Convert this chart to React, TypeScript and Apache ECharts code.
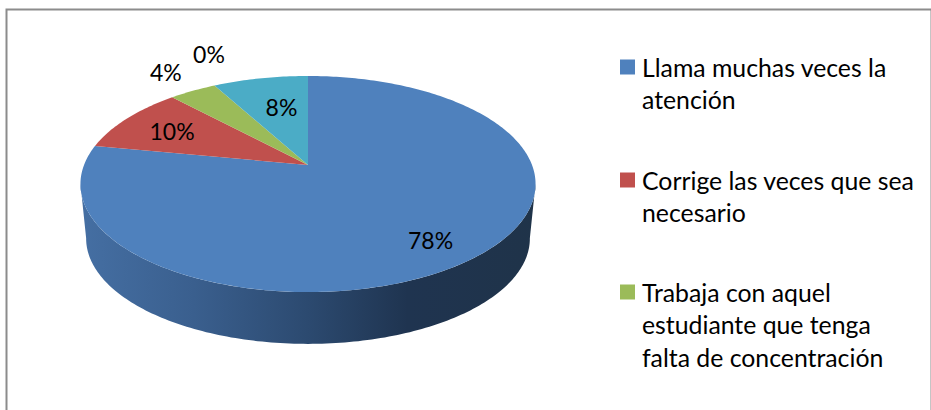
import React, { useEffect, useRef } from "react";
import * as echarts from "echarts";

const sliceNames = [
  "Llama muchas veces la atención",
  "Corrige las veces que sea necesario",
  "Trabaja con aquel estudiante que tenga falta de concentración",
  "Otro",
  "Otros",
];
const sliceValues = [78, 10, 4, 0, 8];
const sliceColors = ["#4f81bd", "#c0504d", "#9bbb59", "#1f497d", "#4bacc6"];
const legendLines = [
  ["Llama muchas veces la", "atención"],
  ["Corrige las veces que sea", "necesario"],
  ["Trabaja con aquel", "estudiante que tenga", "falta de concentración"],
];
const legendColors = ["#4f81bd", "#c0504d", "#9bbb59"];

// label placement: fraction of the way from the apex to the rim at mid-slice, and a nudge
const labelPlace: [number, number, number][] = [
  [0.76, -3, 4],
  [0.74, -2, 0],
  [1.25, 2, 0],
  [1.22, 15, -14],
  [0.62, 3, -4],
];

const FONT = "Lato, Carlito, Calibri, sans-serif";
const APEX = { x: 308, y: 165 };
const A = 104.7;
const C = -0.176;
const D = 224;
const DEPTH = 55;
const BOTTOM_SCALE = 0.975;

function rim(theta: number, k = 1): [number, number] {
  const u = Math.sin(theta);
  const v = -Math.cos(theta);
  const den = 1 + C * v;
  return [APEX.x + (k * D * u) / den, APEX.y + (k * A * v) / den];
}

const WALL_FROM = (100 * Math.PI) / 180;
const WALL_TO = (260 * Math.PI) / 180;

export default function App() {
  const ref = useRef<HTMLDivElement>(null);
  useEffect(() => {
    document.body.style.margin = "0";
    document.body.style.background = "#ffffff";
    const chart = echarts.init(ref.current!, undefined, { renderer: "svg" });
    const total = sliceValues.reduce((a, b) => a + b, 0);

    const renderItem = (params: any, api: any) => {
      const i = params.dataIndex;
      const value = api.value(0);
      let before = 0;
      for (let j = 0; j < i; j++) before += sliceValues[j];
      const t0 = (before / total) * Math.PI * 2;
      const t1 = ((before + value) / total) * Math.PI * 2;
      const children: any[] = [];

      // visible outer wall of this slice
      const a = Math.max(t0, WALL_FROM);
      const b = Math.min(t1, WALL_TO);
      if (b > a) {
        const top: [number, number][] = [];
        const bottom: [number, number][] = [];
        const n = 160;
        for (let s = 0; s <= n; s++) {
          const t = a + ((b - a) * s) / n;
          top.push(rim(t));
          const q = rim(t, BOTTOM_SCALE);
          bottom.push([q[0], q[1] + DEPTH]);
        }
        children.push({
          type: "polygon",
          shape: { points: top.concat(bottom.reverse()) },
          style: {
            fill: new echarts.graphic.LinearGradient(
              80, 0, 535, 0,
              [
                { offset: 0, color: "#456fa3" },
                { offset: 0.25, color: "#3a5f8e" },
                { offset: 0.5, color: "#2c4a70" },
                { offset: 0.72, color: "#1f3450" },
                { offset: 1, color: "#1f3349" },
              ],
              true
            ),
          },
        });
      }

      // top face
      const pts: [number, number][] = [[APEX.x, APEX.y]];
      const steps = Math.max(2, Math.ceil((t1 - t0) * 60));
      for (let s = 0; s <= steps; s++) {
        pts.push(rim(t0 + ((t1 - t0) * s) / steps));
      }
      children.push({
        type: "polygon",
        shape: { points: pts },
        style: { fill: sliceColors[i] },
      });

      // percentage label
      const mid = (t0 + t1) / 2;
      const m = rim(mid);
      const [f, dx, dy] = labelPlace[i];
      children.push({
        type: "text",
        z2: 10,
        style: {
          x: APEX.x + (m[0] - APEX.x) * f + dx,
          y: APEX.y + (m[1] - APEX.y) * f + dy,
          text: Math.round((value / total) * 100) + "%",
          align: "center",
          verticalAlign: "middle",
          fontFamily: FONT,
          fontSize: 23,
          fill: "#000000",
        },
      });
      return { type: "group", children };
    };

    const legendGraphics: any[] = [];
    const legendTops = [67, 180, 292];
    legendLines.forEach((lines, i) => {
      legendGraphics.push({
        type: "rect",
        shape: { x: 620, y: legendTops[i] - 7.5, width: 15, height: 15 },
        style: { fill: legendColors[i] },
      });
      lines.forEach((line, j) => {
        legendGraphics.push({
          type: "text",
          style: {
            x: 642,
            y: legendTops[i] + j * 32.8,
            text: line,
            verticalAlign: "middle",
            fontFamily: FONT,
            fontSize: 24.8,
            fill: "#000000",
          },
        });
      });
    });

    chart.setOption({
      animation: false,
      backgroundColor: "#ffffff",
      graphic: [
        {
          type: "rect",
          silent: true,
          shape: { x: 6.5, y: 9.5, width: 925, height: 410 },
          style: { fill: "none", stroke: "#8c8c8c", lineWidth: 2 },
        },
        ...legendGraphics,
      ],
      series: [
        {
          type: "custom",
          coordinateSystem: "none",
          silent: true,
          renderItem,
          data: sliceValues.map((v, i) => ({ name: sliceNames[i], value: [v] })),
        },
      ],
    });
    return () => chart.dispose();
  }, []);
  return <div ref={ref} style={{ width: 931, height: 410 }} />;
}
